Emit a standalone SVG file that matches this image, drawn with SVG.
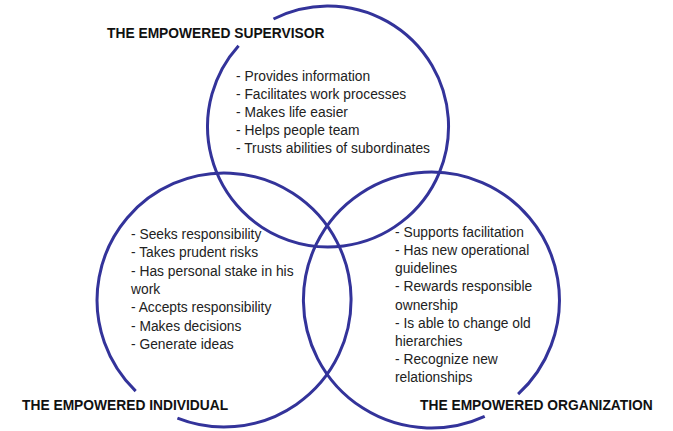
<svg xmlns="http://www.w3.org/2000/svg" width="673" height="431" viewBox="0 0 673 431">
<style>
.c{fill:none;stroke:#33339a;stroke-width:3}
.t{font-family:"Liberation Sans",Arial,sans-serif;font-size:13.8px;fill:#222}
.h{font-family:"Liberation Sans",Arial,sans-serif;font-size:13.8px;font-weight:bold;fill:#111}
</style>
<rect width="673" height="431" fill="#fff"/>
<g id="connectors">
<path class="c" d="M273.5,19 A120.5,120.5 0 1 1 238.6,45.7"/>
<path class="c" d="M135.7,391.2 A127,127 0 1 1 177.4,418.1"/>
<path class="c" d="M484.7,416.4 A128,128 0 1 1 518.1,394.2"/>
</g>
<g id="supervisor">
<text class="h" x="107" y="38.3">THE EMPOWERED SUPERVISOR</text>
<text class="t" x="236" y="80.5">- Provides information</text>
<text class="t" x="236" y="98.7">- Facilitates work processes</text>
<text class="t" x="236" y="116.9">- Makes life easier</text>
<text class="t" x="236" y="135.1">- Helps people team</text>
<text class="t" x="236" y="153.3">- Trusts abilities of subordinates</text>
</g>
<g id="individual">
<text class="h" x="22" y="410">THE EMPOWERED INDIVIDUAL</text>
<text class="t" x="131" y="239">- Seeks responsibility</text>
<text class="t" x="131" y="257.3">- Takes prudent risks</text>
<text class="t" x="131" y="275.7">- Has personal stake in his</text>
<text class="t" x="131" y="294">work</text>
<text class="t" x="131" y="312.3">- Accepts responsibility</text>
<text class="t" x="131" y="330.7">- Makes decisions</text>
<text class="t" x="131" y="349">- Generate ideas</text>
</g>
<g id="organization">
<text class="h" x="420" y="410">THE EMPOWERED ORGANIZATION</text>
<text class="t" x="395" y="236.7">- Supports facilitation</text>
<text class="t" x="395" y="254.9">- Has new operational</text>
<text class="t" x="395" y="273.1">guidelines</text>
<text class="t" x="395" y="291.3">- Rewards responsible</text>
<text class="t" x="395" y="309.5">ownership</text>
<text class="t" x="395" y="327.7">- Is able to change old</text>
<text class="t" x="395" y="345.9">hierarchies</text>
<text class="t" x="395" y="364.1">- Recognize new</text>
<text class="t" x="395" y="382.3">relationships</text>
</g>
</svg>
